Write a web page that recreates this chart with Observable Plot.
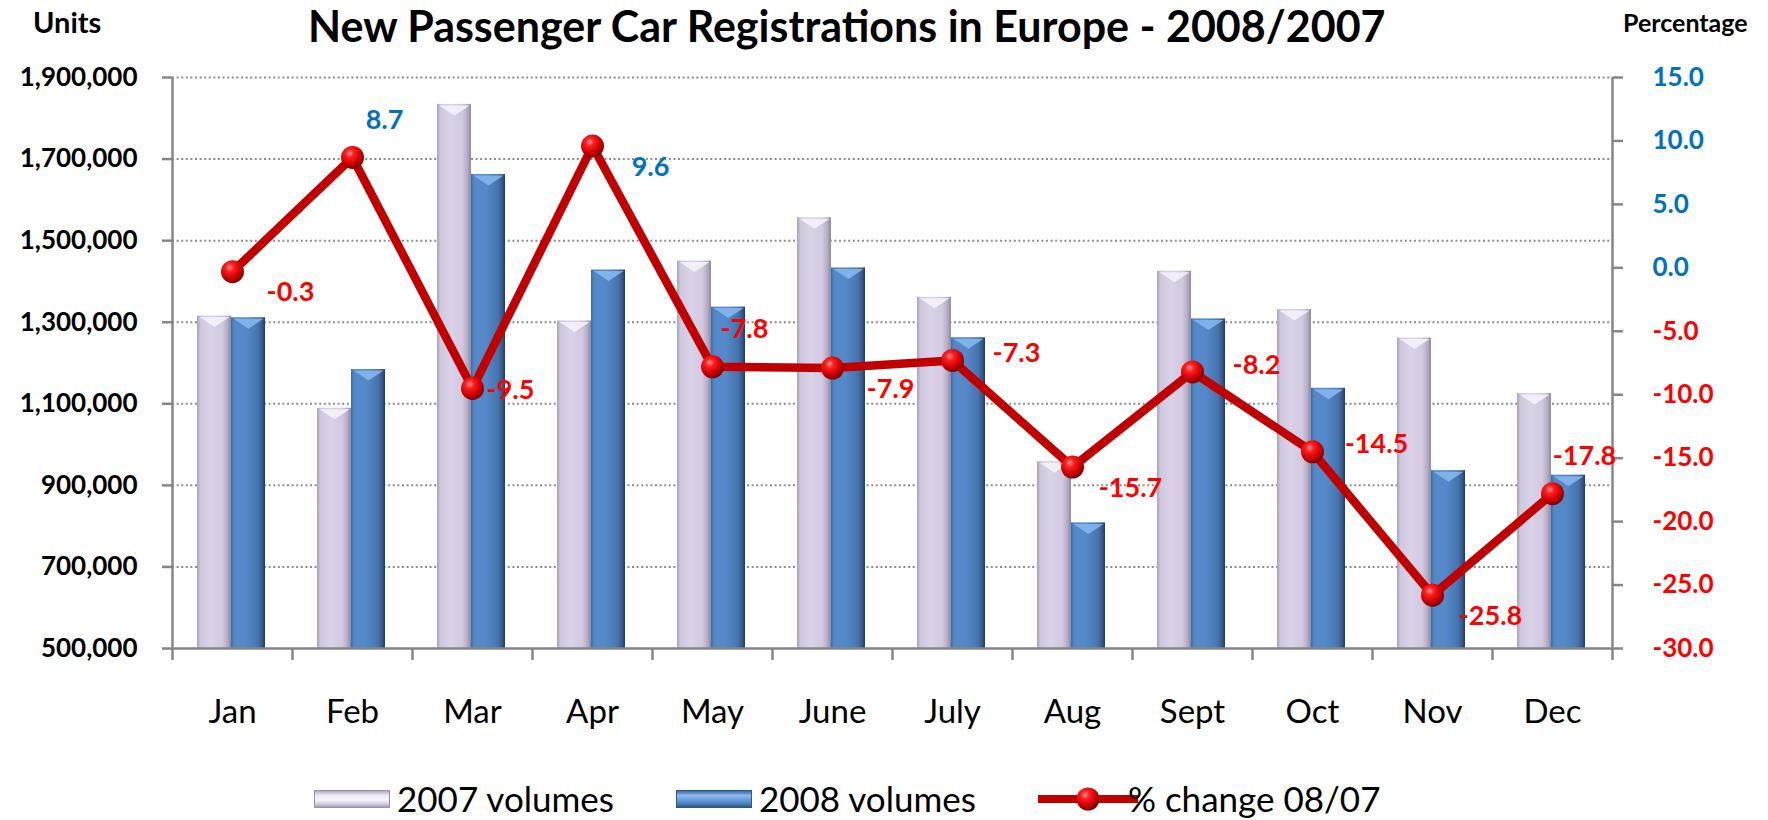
<!DOCTYPE html>
<html><head><meta charset="utf-8">
<script src="https://cdn.jsdelivr.net/npm/d3@7"></script>
<script src="https://cdn.jsdelivr.net/npm/@observablehq/plot@0.6"></script>
<style>
body{margin:0;background:#fff;font-family:Lato,sans-serif;}
#wrap{position:relative;width:1768px;height:820px;overflow:hidden;background:#fff;}
#chart{position:absolute;left:0;top:0;}
.t{position:absolute;white-space:nowrap;font-weight:bold;color:#000;line-height:1.2;}
#legend{position:absolute;left:314px;top:781px;display:flex;align-items:center;font-size:35px;line-height:1;color:#000;white-space:nowrap;}
#legend .sw{display:inline-block;width:76px;height:18px;margin-right:7px;box-sizing:border-box;}
#legend .item{display:flex;align-items:center;}
</style></head>
<body><div id="wrap">
<div id="chart"></div>
<div class="t" id="title" style="left:308px;top:0px;font-size:43px">New Passenger Car Registrations in Europe - 2008/2007</div>
<div class="t" id="units" style="left:33px;top:5px;font-size:29px">Units</div>
<div class="t" id="pcttitle" style="left:1623px;top:7px;font-size:25px">Percentage</div>
<div id="legend"></div>
</div>
<script>
// ---- data ----
const months = ["Jan","Feb","Mar","Apr","May","June","July","Aug","Sept","Oct","Nov","Dec"];
const vol2007 = [1315000,1089000,1834000,1303000,1450000,1556000,1361000,958000,1425000,1331000,1261000,1125000];
const vol2008 = [1311000,1184000,1662000,1428000,1337000,1433000,1262000,808000,1308000,1138000,936000,925000];
const pctChange = [-0.3,8.7,-9.5,9.6,-7.8,-7.9,-7.3,-15.7,-8.2,-14.5,-25.8,-17.8];
const unitTicks = [500000,700000,900000,1100000,1300000,1500000,1700000,1900000];
const pctTicks = [15,10,5,0,-5,-10,-15,-20,-25,-30];
const seriesNames = ["2007 volumes","2008 volumes","% change 08/07"];
// label placement style (manual label positions as in the original)
const labelPlacement = ["below","above","right","below","above","below","far","below","far","far","below","above"];

// ---- layout / style ----
const W=1768,H=765,mL=172,mR=156,mT=77,mB=117;
const bw=(W-mL-mR)/months.length;
const yMin=unitTicks[0], yMax=unitTicks[unitTicks.length-1];
const pMax=pctTicks[0], pMin=pctTicks[pctTicks.length-1];
const toUnits=p=>yMin+(p-pMin)*(yMax-yMin)/(pMax-pMin);
const fromUnits=u=>pMin+(u-yMin)*(pMax-pMin)/(yMax-yMin);
const rows=months.map((m,i)=>({month:m,v7:vol2007[i],v8:vol2008[i],pct:pctChange[i],place:labelPlacement[i]}));
const barW=34;
const inL7=(bw-2*barW)/2-1, inR7=bw-inL7-barW;
const inL8=inL7+barW, inR8=bw-inL8-barW;
const gray="#868686";
const blue="#0070C0", red="#FF0000";
const placements={below:{dx:58,dy:21},above:{dx:32,dy:-37},right:{dx:38,dy:2},far:{dx:64,dy:-7}};
const fmt=d3.format(",");
// bevel cap symbol (chevron) drawn at bar tops
const chevron={draw(ctx){const w=barW/2-2,h=11;ctx.moveTo(-w,1);ctx.lineTo(w,1);ctx.lineTo(0,h);ctx.closePath();}};

const labelMarks=[];
for(const [k,o] of Object.entries(placements)){
  for(const pos of [true,false]){
    const sub=rows.filter(d=>d.place===k && (d.pct>=0)===pos);
    if(!sub.length) continue;
    labelMarks.push(Plot.text(sub,{x:"month",y:d=>toUnits(d.pct),text:d=>d.pct.toFixed(1),dx:o.dx,dy:o.dy,
      fill:pos?blue:red,fontSize:27,fontWeight:"bold"}));
  }
}

const plot=Plot.plot({
  width:W,height:H,marginLeft:mL,marginRight:mR,marginTop:mT,marginBottom:mB,
  style:{fontFamily:"Lato, sans-serif",background:"#fff",overflow:"visible"},
  x:{type:"band",domain:months,padding:0,axis:null},
  y:{domain:[yMin,yMax],axis:null},
  marks:[
    Plot.gridY(unitTicks.filter(d=>d>yMin),{stroke:"#8c8c8c",strokeOpacity:1,strokeWidth:2,strokeDasharray:"2,2.6"}),
    Plot.barY(rows,{x:"month",y1:yMin,y2:"v7",fill:"url(#g2007)",insetLeft:inL7,insetRight:inR7}),
    Plot.barY(rows,{x:"month",y1:yMin,y2:"v8",fill:"url(#g2008)",insetLeft:inL8,insetRight:inR8}),
    Plot.dot(rows,{x:"month",y:"v7",dx:-(bw/2-inL7-barW/2),symbol:chevron,r:5,fill:"#F5F2FA",fillOpacity:0.9,stroke:"none"}),
    Plot.dot(rows,{x:"month",y:"v8",dx:(inL8+barW/2-bw/2),symbol:chevron,r:5,fill:"#86B6EE",fillOpacity:0.9,stroke:"none"}),
    Plot.ruleY([yMin],{stroke:gray,strokeWidth:2.5}),
    Plot.ruleX([months[0]],{dx:-bw/2,stroke:gray,strokeWidth:2.5}),
    Plot.ruleX([months[months.length-1]],{dx:bw/2,stroke:gray,strokeWidth:2.5}),
    Plot.axisY(unitTicks,{anchor:"left",tickSize:10,stroke:gray,strokeWidth:2.5,tickFormat:()=>"",label:null}),
    Plot.axisY(unitTicks,{anchor:"left",tickSize:0,tickPadding:35,tickFormat:fmt,fontSize:26,fontWeight:"bold",color:"#000",label:null}),
    Plot.axisY(pctTicks.map(toUnits),{anchor:"right",tickSize:10,stroke:gray,strokeWidth:2.5,tickFormat:()=>"",label:null}),
    Plot.axisY(pctTicks.filter(p=>p>=0).map(toUnits),{anchor:"right",tickSize:0,tickPadding:40,tickFormat:u=>fromUnits(u).toFixed(1),fontSize:26,fontWeight:"bold",color:blue,label:null}),
    Plot.axisY(pctTicks.filter(p=>p<0).map(toUnits),{anchor:"right",tickSize:0,tickPadding:40,tickFormat:u=>fromUnits(u).toFixed(1),fontSize:26,fontWeight:"bold",color:red,label:null}),
    Plot.axisX(months,{anchor:"bottom",tickSize:0,tickPadding:51,fontSize:33,color:"#000",label:null}),
    Plot.axisX(months,{anchor:"bottom",tickSize:12,dx:-bw/2,stroke:gray,strokeWidth:2.5,tickFormat:()=>"",label:null}),
    Plot.axisX([months[months.length-1]],{anchor:"bottom",tickSize:12,dx:bw/2,stroke:gray,strokeWidth:2.5,tickFormat:()=>"",label:null}),
    Plot.line(rows,{x:"month",y:d=>toUnits(d.pct),stroke:"#C00000",strokeWidth:8.5,strokeLinejoin:"round"}),
    Plot.dot(rows,{x:"month",y:d=>toUnits(d.pct),r:11.5,fill:"url(#sphere)",stroke:"none"}),
    ...labelMarks
  ]
});

// gradients
const svg=d3.select(plot);
const defs=svg.insert("defs",":first-child");
function lin(id,stops){
  const g=defs.append("linearGradient").attr("id",id).attr("x1","0").attr("x2","1").attr("y1","0").attr("y2","0");
  stops.forEach(([o,c])=>g.append("stop").attr("offset",o).attr("stop-color",c));
}
lin("g2007",[["0%","#A99FB9"],["10%","#CFC7DD"],["40%","#DAD2E8"],["75%","#D1C8E0"],["90%","#B3AAC3"],["100%","#8F879E"]]);
lin("g2008",[["0%","#3F6CA4"],["10%","#5489C9"],["45%","#5588C8"],["80%","#4673AD"],["92%","#34598A"],["100%","#1F3A60"]]);
const rg=defs.append("radialGradient").attr("id","sphere").attr("cx","38%").attr("cy","32%").attr("r","70%");
[["0%","#FF9A9A"],["25%","#FF2020"],["65%","#D00000"],["100%","#7A0000"]].forEach(([o,c])=>rg.append("stop").attr("offset",o).attr("stop-color",c));
document.getElementById("chart").appendChild(plot);

// legend
const lg=document.getElementById("legend");
const swatchBg=[
  "linear-gradient(to bottom,#B2A9C2 0%,#EEEAF4 28%,#F6F3FA 55%,#D9D2E5 80%,#A49BB4 100%)",
  "linear-gradient(to bottom,#3C6AA3 0%,#8DB9EC 28%,#6A9DDA 55%,#4C7FBE 80%,#2F5585 100%)"
];
const gaps=[62,60,0];
seriesNames.forEach((name,i)=>{
  const item=document.createElement("div");item.className="item";item.style.marginRight=gaps[i]+"px";
  if(i<2){
    const s=document.createElement("span");s.className="sw";s.style.background=swatchBg[i];
    s.style.border="1px solid "+(i===0?"#9A91AA":"#2F5585");
    item.appendChild(s);
  } else {
    const ns="http://www.w3.org/2000/svg";
    const sv=document.createElementNS(ns,"svg");sv.setAttribute("width","104");sv.setAttribute("height","30");sv.style.marginRight="-12px";
    sv.innerHTML='<defs><radialGradient id="lsph" cx="38%" cy="32%" r="70%"><stop offset="0%" stop-color="#FF9A9A"/><stop offset="25%" stop-color="#FF2020"/><stop offset="65%" stop-color="#D00000"/><stop offset="100%" stop-color="#7A0000"/></radialGradient></defs>'+
      '<line x1="2" y1="15" x2="102" y2="15" stroke="#C00000" stroke-width="8"/><circle cx="52" cy="15" r="11.5" fill="url(#lsph)"/>';
    item.appendChild(sv);
  }
  const t=document.createElement("span");t.textContent=name;item.appendChild(t);
  lg.appendChild(item);
});
</script>
</body></html>
